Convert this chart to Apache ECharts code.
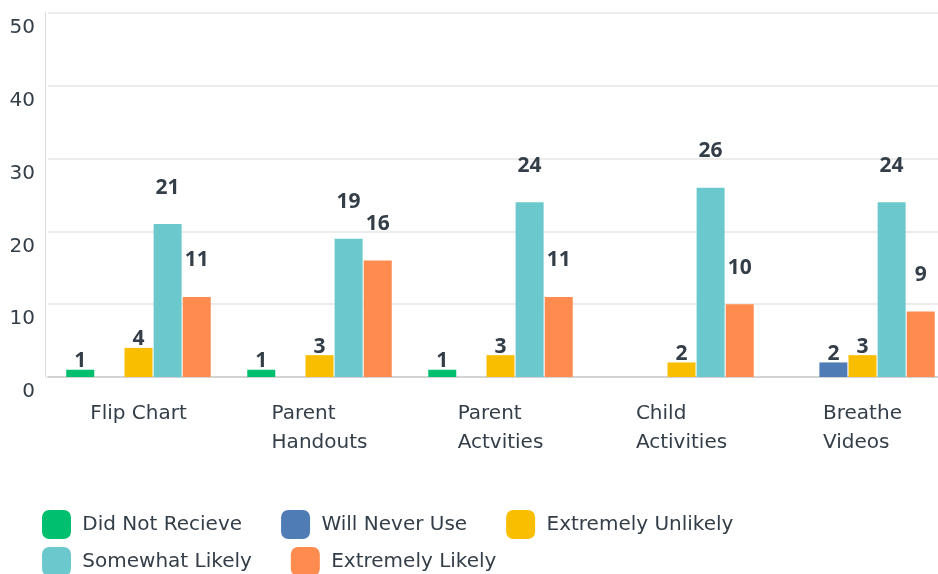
<!DOCTYPE html>
<html><head><meta charset="utf-8">
<script src="https://cdn.jsdelivr.net/npm/echarts@6/dist/echarts.min.js"></script>
<style>html,body{margin:0;padding:0;background:#fff}#c{width:938px;height:574px}</style>
</head><body><div id="c"></div>
<script>
var categories = ['Flip Chart', 'Parent\nHandouts', 'Parent\nActvities', 'Child\nActivities', 'Breathe\nVideos'];
var seriesNames = ['Did Not Recieve', 'Will Never Use', 'Extremely Unlikely', 'Somewhat Likely', 'Extremely Likely'];
var didNotRecieve = [1, 1, 1, null, null];
var willNeverUse = [null, null, null, null, 2];
var extremelyUnlikely = [4, 3, 3, 2, 3];
var somewhatLikely = [21, 19, 24, 26, 24];
var extremelyLikely = [11, 16, 11, 10, 9];
var yTicks = [0, 10, 20, 30, 40, 50];

var colors = ['#00bf6f', '#507cb6', '#f9be00', '#6bc8cd', '#ff8b4f'];
var values = [didNotRecieve, willNeverUse, extremelyUnlikely, somewhatLikely, extremelyLikely];
var labelDist = [-2, -2, -2, 26, 26];
var textColor = '#333e48';
var font = 'DejaVu Sans';
var boldFont = 'Open Sans';

function legendRow(names, top) {
  return {
    data: names,
    left: 42, top: top,
    itemWidth: 29, itemHeight: 29, itemGap: 39,
    icon: 'roundRect',
    formatter: function (n) { return ' ' + n; },
    textStyle: {fontFamily: font, fontSize: 20, color: textColor},
    padding: 0
  };
}

var chart = echarts.init(document.getElementById('c'), null, {renderer: 'canvas'});
chart.setOption({
  animation: false,
  grid: {left: 48, top: 13, width: 905, bottom: 197, containLabel: false, outerBoundsMode: 'none'},
  legend: [legendRow(seriesNames.slice(0, 3), 510), legendRow(seriesNames.slice(3), 547)],
  xAxis: {
    type: 'category', data: categories,
    axisLine: {show: true, lineStyle: {color: '#d3d3d3', width: 2}},
    axisTick: {show: false},
    axisLabel: {
      interval: 0,
      margin: 22, fontFamily: font, fontSize: 20, color: textColor, lineHeight: 29,
      formatter: function (v) { return v.split('\n').map(function (s) { return '{a|' + s + '}'; }).join('\n'); },
      rich: {a: {align: 'left', fontFamily: font, fontSize: 20, color: textColor, lineHeight: 29}}
    }
  },
  yAxis: {
    type: 'value', min: yTicks[0], max: yTicks[yTicks.length - 1], interval: 10,
    offset: 3,
    axisLine: {show: true, lineStyle: {color: '#dcdcdc', width: 1}},
    axisTick: {show: false},
    splitLine: {lineStyle: {color: '#ececec', width: 2}},
    axisLabel: {margin: 10, fontFamily: font, fontSize: 20, color: textColor, verticalAlign: 'top', padding: [5, 0, 0, 0]}
  },
  series: values.map(function (arr, i) {
    return {
      name: seriesNames[i], type: 'bar', data: arr,
      barWidth: 28, barGap: '4%', barCategoryGap: '20%',
      itemStyle: {color: colors[i]},
      label: {show: true, position: 'top', distance: labelDist[i], fontFamily: boldFont, fontWeight: 'bold', fontSize: 21, color: textColor}
    };
  })
});
</script></body></html>
